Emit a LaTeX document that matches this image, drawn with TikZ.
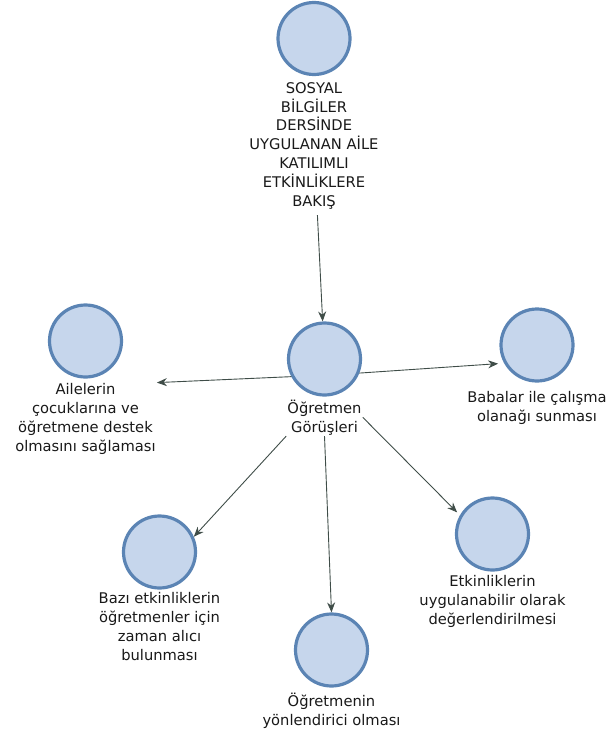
\documentclass[tikz,border=0pt]{standalone}
\usepackage{fontspec}
\setmainfont{DejaVu Sans}
\usetikzlibrary{positioning,arrows.meta}
\definecolor{ballfill}{HTML}{C6D6EC}
\definecolor{balledge}{HTML}{5B84B4}
\definecolor{linkgray}{HTML}{3F4D48}
\tikzset{
    concept-ball/.style = {circle, draw=balledge, fill=ballfill, line width=3.2pt, minimum size=72pt, inner sep=0pt},
    concept-text/.style = {align=center, font=\fontsize{14.7}{18.8}\selectfont, text=black!90, inner sep=1pt},
    link-arrow/.style = {draw=linkgray, line width=0.9pt, -{Stealth[length=10pt,width=8pt]}},
}

\begin{document}
\begin{tikzpicture}[x=1pt,y=-1pt]
\useasboundingbox (0,0) rectangle (610,733);
% concepts
\node[concept-ball] (top) at (314,38.5) {};
\node[concept-text, below=5pt of top] (top-txt) {SOSYAL\\BİLGİLER\\DERSİNDE\\UYGULANAN AİLE\\KATILIMLI\\ETKİNLİKLERE\\BAKIŞ};
\node[concept-ball] (ogr) at (324.5,359) {};
\node[concept-text, below=2pt of ogr] (ogr-txt) {Öğretmen\\Görüşleri};
\node[concept-ball] (ail) at (85.5,341) {};
\node[concept-text, below=4pt of ail] (ail-txt) {Ailelerin\\çocuklarına ve\\öğretmene destek\\olmasını sağlaması};
\node[concept-ball] (bab) at (537,345) {};
\node[concept-text, below=8pt of bab] (bab-txt) {Babalar ile çalışma\\olanağı sunması};
\node[concept-ball] (baz) at (159.5,552) {};
\node[concept-text, below=2pt of baz] (baz-txt) {Bazı etkinliklerin\\öğretmenler için\\zaman alıcı\\bulunması};
\node[concept-ball] (yon) at (331.5,650) {};
\node[concept-text, below=4pt of yon] (yon-txt) {Öğretmenin\\yönlendirici olması};
\node[concept-ball] (etk) at (492.5,534) {};
\node[concept-text, below=3pt of etk] (etk-txt) {Etkinliklerin\\uygulanabilir olarak\\değerlendirilmesi};
% links
\draw[link-arrow, shorten <=5pt] (top-txt) -- (ogr);
\draw[link-arrow] (ogr.208) -- (ail-txt.north east);
\draw[link-arrow, shorten >=6pt] (ogr.338) -- (bab.209);
\draw[link-arrow] (ogr-txt.south west) -- (baz.24);
\draw[link-arrow] (ogr-txt.south) -- (yon.north);
\draw[link-arrow, shorten >=4pt] (ogr-txt.east) -- (etk.150);
\end{tikzpicture}
\end{document}
